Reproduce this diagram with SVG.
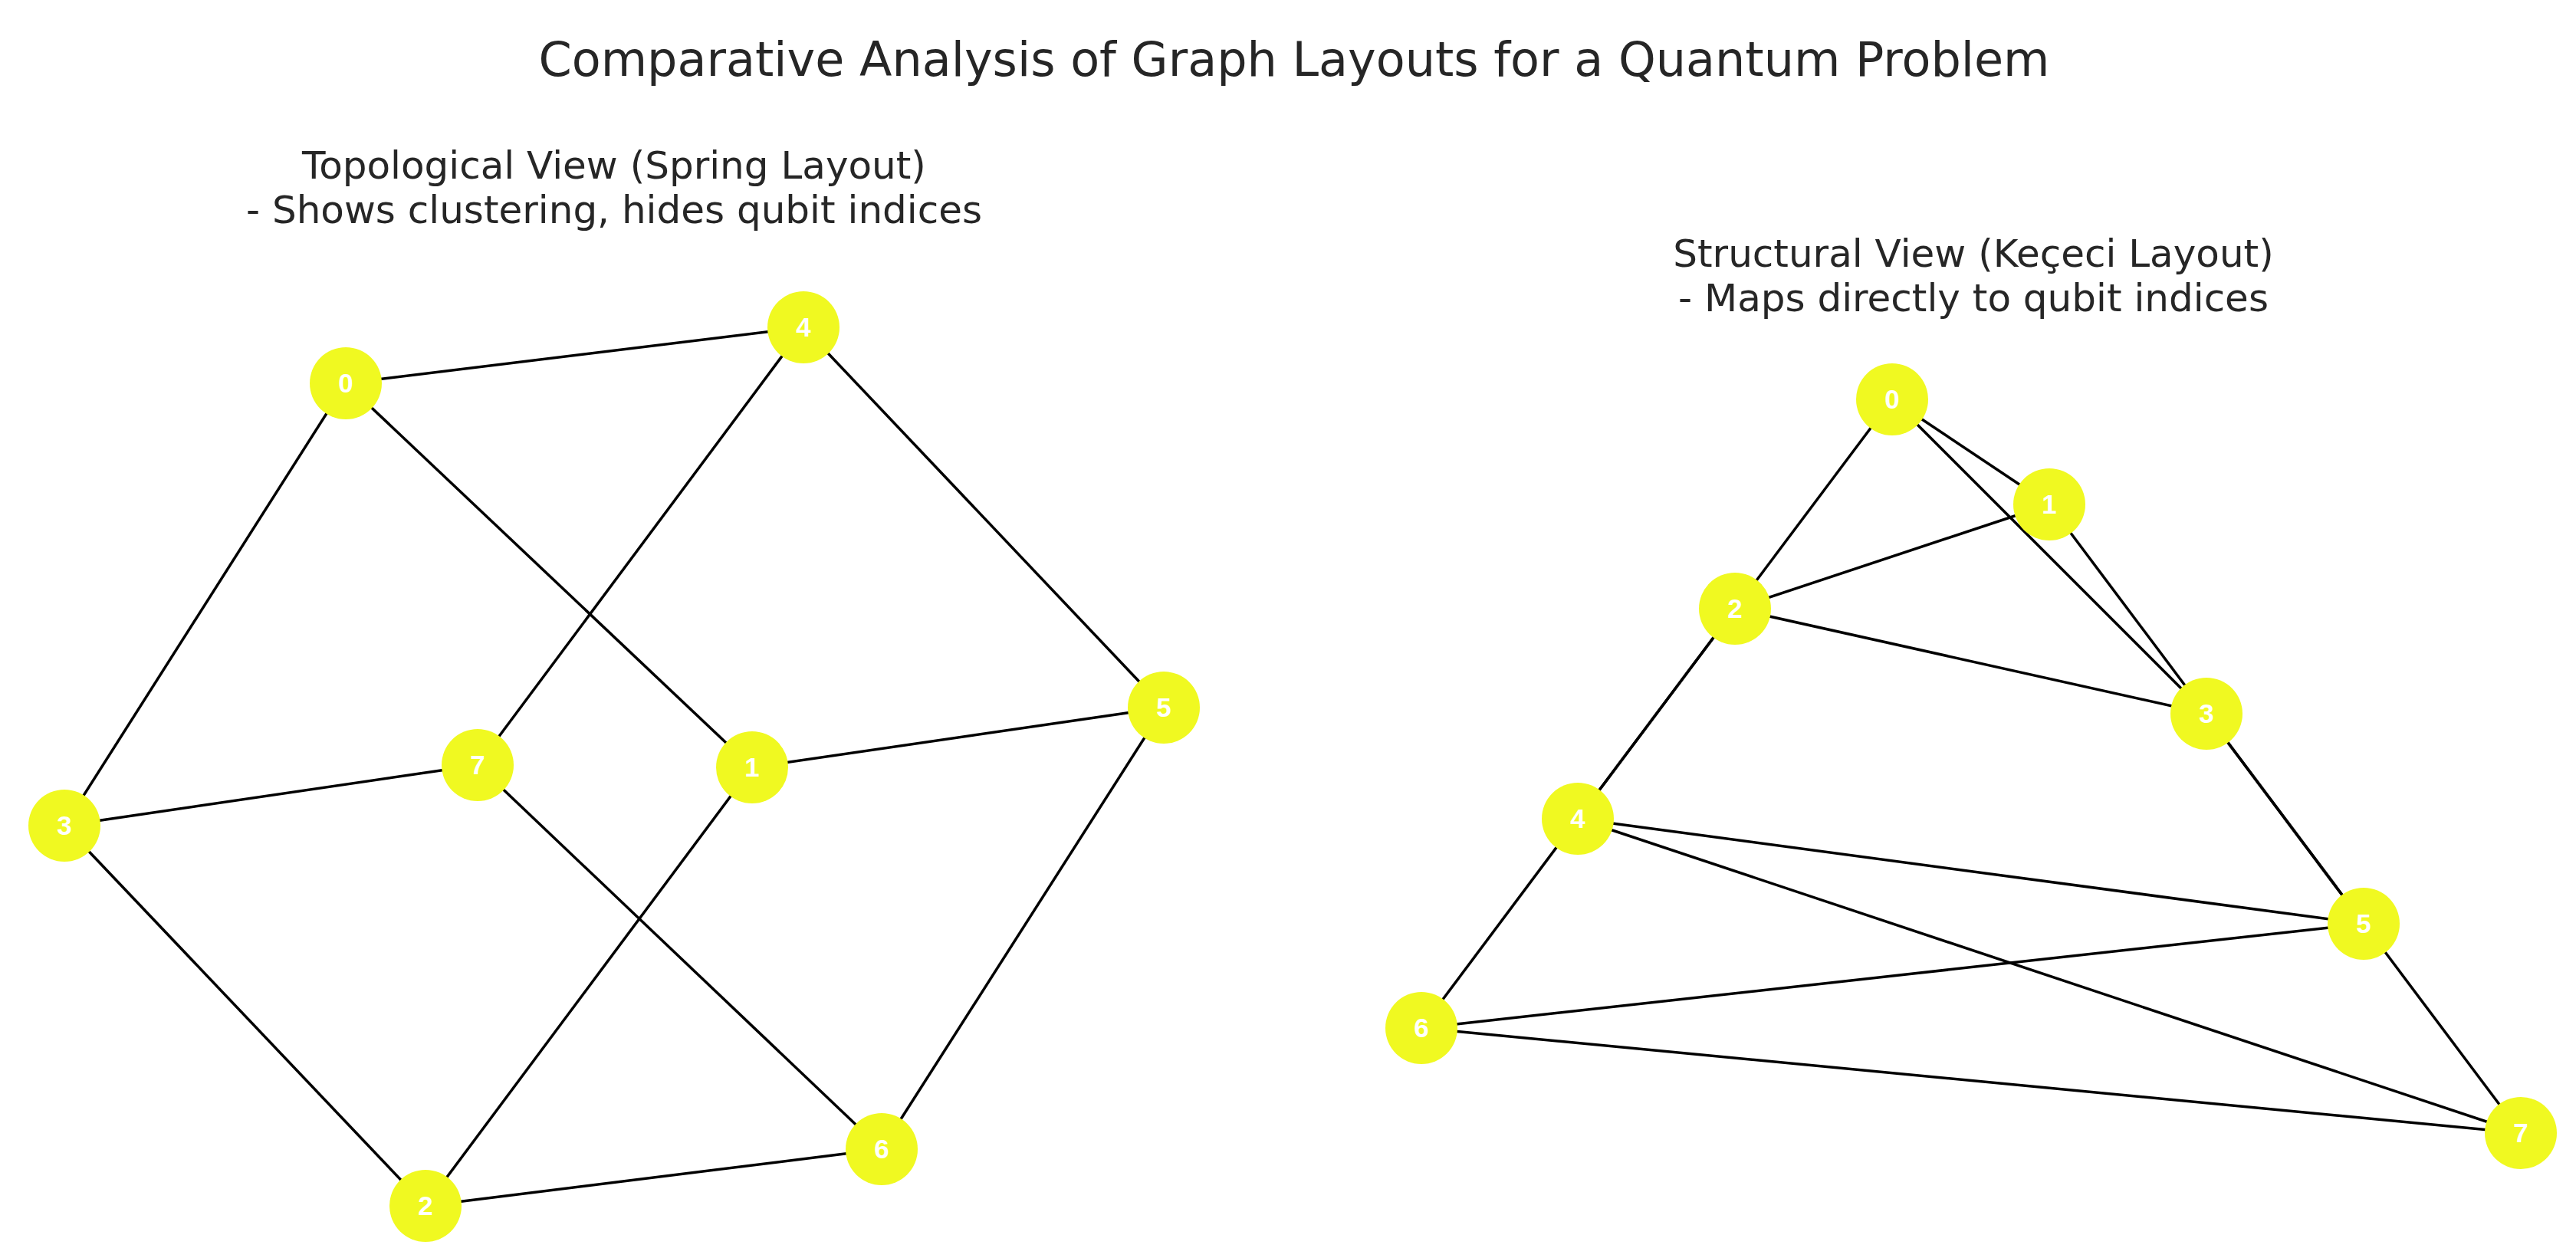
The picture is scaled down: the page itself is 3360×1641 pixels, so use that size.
<svg xmlns="http://www.w3.org/2000/svg" width="3360" height="1641" viewBox="0 0 3360 1641">
<style>
.title{font-family:"DejaVu Sans",sans-serif;fill:#262626;text-anchor:middle}
.edge{stroke:#000;stroke-width:3.5;fill:none;stroke-linecap:butt}
.node circle{fill:#f0f921}
.node text{font-family:"Liberation Sans",Arial,sans-serif;font-weight:bold;font-size:35px;fill:#fff;text-anchor:middle}
</style>
<rect width="3360" height="1641" fill="#fff"/>
<text class="title" x="1688" y="99" font-size="62">Comparative Analysis of Graph Layouts for a Quantum Problem</text>
<text class="title" x="801" y="233" font-size="50">Topological View (Spring Layout)</text>
<text class="title" x="801" y="291" font-size="50">- Shows clustering, hides qubit indices</text>
<text class="title" x="2574" y="348" font-size="50">Structural View (Keçeci Layout)</text>
<text class="title" x="2574" y="406" font-size="50">- Maps directly to qubit indices</text>
<g id="connectors">
<g id="left-edges">
<line class="edge" x1="451" y1="500" x2="1048" y2="427"/>
<line class="edge" x1="451" y1="500" x2="84" y2="1077"/>
<line class="edge" x1="451" y1="500" x2="981" y2="1001"/>
<line class="edge" x1="1048" y1="427" x2="623" y2="998"/>
<line class="edge" x1="1048" y1="427" x2="1518" y2="923"/>
<line class="edge" x1="84" y1="1077" x2="623" y2="998"/>
<line class="edge" x1="84" y1="1077" x2="555" y2="1573"/>
<line class="edge" x1="623" y1="998" x2="1150" y2="1499"/>
<line class="edge" x1="981" y1="1001" x2="1518" y2="923"/>
<line class="edge" x1="981" y1="1001" x2="555" y2="1573"/>
<line class="edge" x1="1518" y1="923" x2="1150" y2="1499"/>
<line class="edge" x1="555" y1="1573" x2="1150" y2="1499"/>
</g>
<g id="right-edges">
<line class="edge" x1="2468" y1="521" x2="2058" y2="1068"/>
<line class="edge" x1="2468" y1="521" x2="2878" y2="931"/>
<line class="edge" x1="2468" y1="521" x2="2673" y2="658"/>
<line class="edge" x1="2058" y1="1068" x2="3288" y2="1478"/>
<line class="edge" x1="2058" y1="1068" x2="3083" y2="1205"/>
<line class="edge" x1="2878" y1="931" x2="3288" y2="1478"/>
<line class="edge" x1="2878" y1="931" x2="2263" y2="794"/>
<line class="edge" x1="3288" y1="1478" x2="1854" y2="1341"/>
<line class="edge" x1="2673" y1="658" x2="3083" y2="1205"/>
<line class="edge" x1="2673" y1="658" x2="2263" y2="794"/>
<line class="edge" x1="3083" y1="1205" x2="1854" y2="1341"/>
<line class="edge" x1="2263" y1="794" x2="1854" y2="1341"/>
</g>
</g>
<g id="left-nodes">
<g id="L0" class="node"><circle cx="451" cy="500" r="47"/><text x="451" y="512">0</text></g>
<g id="L1" class="node"><circle cx="981" cy="1001" r="47"/><text x="981" y="1013">1</text></g>
<g id="L2" class="node"><circle cx="555" cy="1573" r="47"/><text x="555" y="1585">2</text></g>
<g id="L3" class="node"><circle cx="84" cy="1077" r="47"/><text x="84" y="1089">3</text></g>
<g id="L4" class="node"><circle cx="1048" cy="427" r="47"/><text x="1048" y="439">4</text></g>
<g id="L5" class="node"><circle cx="1518" cy="923" r="47"/><text x="1518" y="935">5</text></g>
<g id="L6" class="node"><circle cx="1150" cy="1499" r="47"/><text x="1150" y="1511">6</text></g>
<g id="L7" class="node"><circle cx="623" cy="998" r="47"/><text x="623" y="1010">7</text></g>
</g>
<g id="right-nodes">
<g id="R0" class="node"><circle cx="2468" cy="521" r="47"/><text x="2468" y="533">0</text></g>
<g id="R1" class="node"><circle cx="2673" cy="658" r="47"/><text x="2673" y="670">1</text></g>
<g id="R2" class="node"><circle cx="2263" cy="794" r="47"/><text x="2263" y="806">2</text></g>
<g id="R3" class="node"><circle cx="2878" cy="931" r="47"/><text x="2878" y="943">3</text></g>
<g id="R4" class="node"><circle cx="2058" cy="1068" r="47"/><text x="2058" y="1080">4</text></g>
<g id="R5" class="node"><circle cx="3083" cy="1205" r="47"/><text x="3083" y="1217">5</text></g>
<g id="R6" class="node"><circle cx="1854" cy="1341" r="47"/><text x="1854" y="1353">6</text></g>
<g id="R7" class="node"><circle cx="3288" cy="1478" r="47"/><text x="3288" y="1490">7</text></g>
</g>
</svg>
